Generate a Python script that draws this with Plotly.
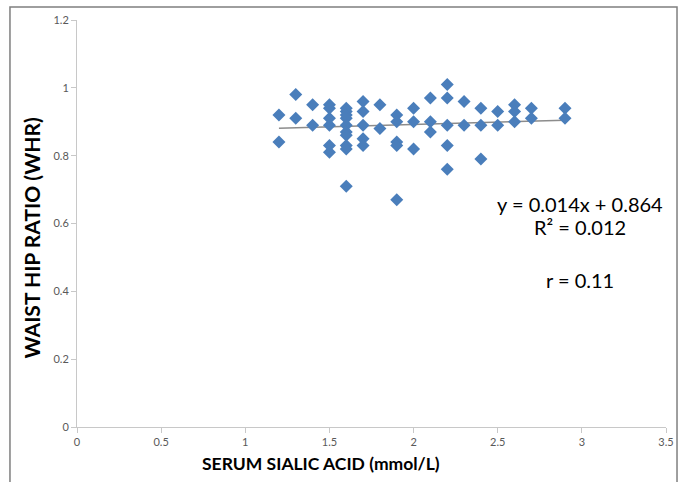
import plotly.graph_objects as go

# Data
serum_sialic_acid = [
    1.2, 1.2,
    1.3, 1.3,
    1.4, 1.4,
    1.5, 1.5, 1.5, 1.5, 1.5, 1.5,
    1.6, 1.6, 1.6, 1.6, 1.6, 1.6, 1.6, 1.6, 1.6, 1.6,
    1.7, 1.7, 1.7, 1.7, 1.7,
    1.8, 1.8,
    1.9, 1.9, 1.9, 1.9, 1.9,
    2.0, 2.0, 2.0,
    2.1, 2.1, 2.1,
    2.2, 2.2, 2.2, 2.2, 2.2,
    2.3, 2.3,
    2.4, 2.4, 2.4,
    2.5, 2.5,
    2.6, 2.6, 2.6,
    2.7, 2.7,
    2.9, 2.9,
]
waist_hip_ratio = [
    0.92, 0.84,
    0.98, 0.91,
    0.95, 0.89,
    0.95, 0.94, 0.91, 0.89, 0.83, 0.81,
    0.94, 0.93, 0.92, 0.91, 0.89, 0.87, 0.86, 0.83, 0.82, 0.71,
    0.96, 0.93, 0.89, 0.85, 0.83,
    0.95, 0.88,
    0.92, 0.90, 0.84, 0.83, 0.67,
    0.94, 0.90, 0.82,
    0.97, 0.90, 0.87,
    1.01, 0.97, 0.89, 0.83, 0.76,
    0.96, 0.89,
    0.94, 0.89, 0.79,
    0.93, 0.89,
    0.95, 0.93, 0.90,
    0.94, 0.91,
    0.94, 0.91,
]
trend_slope = 0.014
trend_intercept = 0.864
trend_x = [min(serum_sialic_acid), max(serum_sialic_acid)]
trend_y = [trend_slope * v + trend_intercept for v in trend_x]

x_title = "SERUM SIALIC ACID (mmol/L)"
y_title = "WAIST HIP RATIO (WHR)"
equation_text = "y = 0.014x + 0.864"
r2_text = "R² = 0.012"
r_text = "r = 0.11"

x_ticks = [0, 0.5, 1, 1.5, 2, 2.5, 3, 3.5]
y_ticks = [0, 0.2, 0.4, 0.6, 0.8, 1, 1.2]

FONT = "Lato"

fig = go.Figure()
fig.add_trace(go.Scatter(
    x=trend_x, y=trend_y, mode="lines",
    line=dict(color="#8c8c8c", width=1.5),
    hoverinfo="skip", showlegend=False,
))
fig.add_trace(go.Scatter(
    x=serum_sialic_acid, y=waist_hip_ratio, mode="markers",
    marker=dict(symbol="diamond", size=10, color="#4a7ebb",
                line=dict(width=0)),
    showlegend=False,
))

fig.update_layout(
    width=685, height=482,
    margin=dict(l=77, r=19, t=20, b=55, autoexpand=False),
    paper_bgcolor="white", plot_bgcolor="white",
    font=dict(family=FONT, color="#595959", size=11),
    xaxis=dict(
        range=[0, 3.5], tickvals=x_ticks, ticktext=[f"{t:g}" for t in x_ticks],
        showgrid=False, zeroline=False, showline=True, linecolor="#c8c8c8",
        linewidth=1, ticks="outside", ticklen=5, tickcolor="#c8c8c8",
        tickfont=dict(family=FONT, size=11, color="#595959"),
        automargin=False,
    ),
    yaxis=dict(
        range=[0, 1.2], tickvals=y_ticks, ticktext=[f"{t:g}" for t in y_ticks],
        showgrid=False, zeroline=False, showline=True, linecolor="#c8c8c8",
        linewidth=1, ticks="outside", ticklen=5, tickcolor="#c8c8c8",
        tickfont=dict(family=FONT, size=11, color="#595959"),
        automargin=False,
    ),
    shapes=[dict(
        type="rect", xref="paper", yref="paper",
        x0=-0.1138, x1=1.0187, y0=-0.2, y1=1.032,
        line=dict(color="#7f7f7f", width=1.5), fillcolor="rgba(0,0,0,0)",
        layer="below",
    )],
    annotations=[
        dict(x=0.4143, y=-0.0909, xref="paper", yref="paper", text=x_title,
             showarrow=False,
             font=dict(family=FONT, size=17.5, color="#000000", weight="bold"),
             xanchor="center", yanchor="middle"),
        dict(x=-0.0764, y=0.4631, xref="paper", yref="paper", text=y_title,
             showarrow=False, textangle=-90,
             font=dict(family=FONT, size=21, color="#000000", weight="bold"),
             xanchor="center", yanchor="middle"),
        dict(x=2.99, y=0.658, xref="x", yref="y", text=equation_text,
             showarrow=False, font=dict(family=FONT, size=20, color="#000000"),
             xanchor="center", yanchor="middle"),
        dict(x=2.99, y=0.59, xref="x", yref="y", text=r2_text,
             showarrow=False, font=dict(family=FONT, size=20, color="#000000"),
             xanchor="center", yanchor="middle"),
        dict(x=2.99, y=0.434, xref="x", yref="y", text=r_text,
             showarrow=False, font=dict(family=FONT, size=20, color="#000000"),
             xanchor="center", yanchor="middle"),
    ],
)

fig.write_html(
    "out.html",
    config={"displayModeBar": False},
    post_script="document.body.style.margin='0';document.body.style.overflow='hidden';",
)
